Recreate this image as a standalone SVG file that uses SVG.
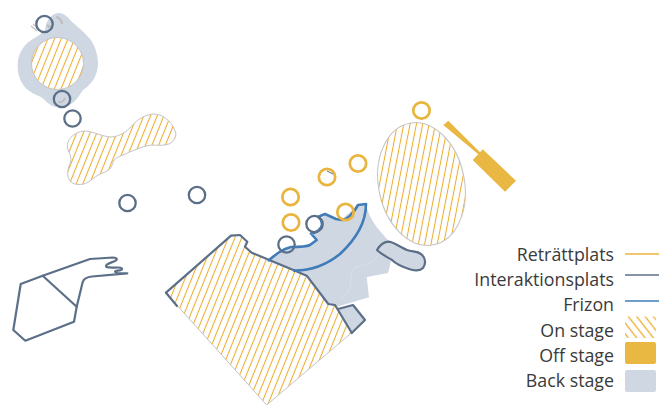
<svg xmlns="http://www.w3.org/2000/svg" width="659" height="405" viewBox="0 0 659 405">
<style>
.on{fill:url(#hatch);stroke:#c4c4c4;stroke-width:1}
.back{fill:#cfd7e3;stroke:none}
.off{fill:#e9b843;stroke:none}
.ring-y{fill:none;stroke:#e9b53f;stroke-width:2.7}
.ring-g{fill:none;stroke:#5c6f88;stroke-width:2.3}
.int{fill:none;stroke:#5c6f88;stroke-width:2.2;stroke-linejoin:round;stroke-linecap:round}
.fri{fill:none;stroke:#3f7cb8;stroke-width:2.6;stroke-linejoin:round}
.lbl{font-family:"Open Sans","Noto Sans",sans-serif;font-size:17.8px;fill:#3a3a3a;text-anchor:end}
</style>
<defs>
<pattern id="hatch" patternUnits="userSpaceOnUse" width="6.2" height="16" patternTransform="rotate(22)">
<rect width="6.2" height="16" fill="#fff"/><line x1="3.1" y1="0" x2="3.1" y2="16" stroke="#eaad2c" stroke-width="1.050"/>
</pattern>
<pattern id="hatchL" patternUnits="userSpaceOnUse" width="6.600" height="16" patternTransform="rotate(-38)">
<line x1="3.3" y1="0" x2="3.3" y2="16" stroke="#eaad2c" stroke-width="1.300"/>
</pattern>
</defs>
<g id="island-north">
<path class="back" d="M45 30C46 20 52 13 59 13C64 13 68 17 72 22C78 27 84 32 90 39C96 47 98 56 98 65C97 76 92 84 83 90C79 96 76 101 71 104C65 108 58 108 52 106C47 103 44 99 41 97C33 94 26 90 22 83C18 76 17 68 18 60C20 50 26 43 33 39C37 36 42 34 45 30Z"/>
<circle class="on" cx="57.500" cy="63.500" r="26"/>
<path d="M31 26L37 31M33 24L39 29" stroke="#c8c8c8" stroke-width="1.500" fill="none"/>
<path d="M47 25A6 6 0 0 0 53 27M56 17A8 8 0 0 1 62 24" stroke="#bdbdbd" stroke-width="2.200" fill="none"/>
<path d="M58 102A6 6 0 0 0 65 98" stroke="#bdbdbd" stroke-width="2" fill="none"/>
</g>
<g id="on-stage-blob">
<path class="on" d="M68 142C71 135 78 131 86 131C95 132 103 137 112 137C120 136 126 132 131 127C137 119 146 114 155 114C165 115 174 124 176 134C175 141 171 144 165 145C158 146 152 144 146 146C138 148 130 152 123 155C118 157 114 159 113 162C112 167 110 170 105 172C99 174 95 177 90 181C85 185 76 186 71 182C67 178 67 172 69 166C72 160 71 157 69 152C67 149 67 145 68 142Z"/>
</g>
<g id="on-stage-main">
<path class="on" d="M165.700 292.700L231 235.700L240 235L247.300 241.700L245 246.700L251.700 252.700L293.300 270L306.700 275.700L328.300 304L335 305L351.700 332.700L266.700 405Z"/>
</g>
<g id="back-stage-main">
<path class="back" d="M268 261C276 254 282 248 291 247C300 247 308 247 316 240L312 233L323 217L326 214L341 220L358 205L366 204C368 217 378 230 390 242L377 250L391 261L388 273L366.700 277L369 297.300L337 306.700L328.300 304L306.700 275.700L293.300 270Z"/>
<path d="M377 256C374 263 364 265 355 267C351 271 351 280 350 288C348 293 344 296 340 300" fill="none" stroke="#dbe1ea" stroke-width="0.800"/>
<path class="back" d="M338 309L353 305L365 320L351.700 333Z"/>
<path class="back" d="M377 250C380 245 384 242 388 241.700C394 241.700 401 248 407 250C412 252 417 251 421 254C426 258 426 264 423 268C420 271 414 271 409 269C403 267 396 264 392 260C387 257 381 254 377 250Z"/>
</g>
<g id="off-stage">
<ellipse class="on" cx="421.500" cy="184" rx="43" ry="62" transform="rotate(-11 421.500 184)"/>
<path class="off" d="M448.300 120.700L480 152.300L482.700 149.300L516 180.700L505 191.700L472.700 160L478.300 154.300L443.300 125Z"/>
</g>
<g id="path-lower-left">
<path class="int" d="M42.700 275.700L90 259L113 257.500C117 257.500 118 259 115 261C110 263 106 264 106 266C106 268 112 267.500 118 267.500C122 267.500 123 269 121 270C118 271 115 270.500 115 272C115 273 120 273.300 127.300 273.300L92 276.500C87 277 84 278 82.700 282L76.700 306.700L74 321.700L25.300 340.700L13.300 330L20.700 284Z"/>
<path class="int" d="M42.700 275.700L76.700 306.700"/>
</g>
<g id="interaction-borders">
<path class="int" d="M166 292.700L231 235.700L240 235L247.300 241.700L245 246.700L251.700 252.700L293.300 270L306.700 275.700L328.300 304L335 305L351.700 332.700"/>
<path class="int" d="M166 292.700L177 306"/>
<path class="int" d="M338 309L353 305L365 320L351.700 333"/>
<path class="int" d="M377 250C380 245 384 242 388 241.700C394 241.700 401 248 407 250C412 252 417 251 421 254C426 258 426 264 423 268C420 271 414 271 409 269C403 267 396 264 392 260C387 257 381 254 377 250Z"/>
</g>
<g id="frizon">
<circle cx="314.500" cy="224" r="8" fill="#fff"/>
<path class="fri" d="M268 261C275 255 282 249 291 247C298 247 306 247 310 245L316.700 240L311 233.500C317 233 321 229 322 225C322 221 321 219 318 217L325 214L336 219L341.700 220C349 220 354 212 358 205L366 204C366 225 354 241 340 254C325 266 308 271 293 270.500"/>
</g>
<g id="rings">
<circle class="ring-g" cx="44.500" cy="24" r="8.200"/>
<circle class="ring-g" cx="62" cy="99" r="8.200"/>
<circle class="ring-g" cx="72.500" cy="118.500" r="8.200"/>
<circle class="ring-g" cx="127.500" cy="203" r="8.200"/>
<circle class="ring-g" cx="197" cy="195" r="8.200"/>
<circle class="ring-g" cx="286.500" cy="244.500" r="8.200"/>
<circle class="ring-g" cx="314.500" cy="224" r="8.200"/>
<circle class="ring-y" cx="421.500" cy="110.500" r="8.200"/>
<circle class="ring-y" cx="358" cy="163.500" r="8.200"/>
<circle class="ring-y" cx="327" cy="177" r="8.200"/>
<circle class="ring-y" cx="290.500" cy="197" r="8.200"/>
<circle class="ring-y" cx="291" cy="222.500" r="8.200"/>
<circle class="ring-y" cx="345.500" cy="212" r="8.200"/>
<path d="M327 171L333 174" stroke="#5c6f88" stroke-width="1" fill="none"/>
</g>
<g id="legend">
<text class="lbl" x="614" y="261">Reträttplats</text>
<text class="lbl" x="614" y="286">Interaktionsplats</text>
<text class="lbl" x="614" y="311">Frizon</text>
<text class="lbl" x="614" y="336.500">On stage</text>
<text class="lbl" x="614" y="361.500">Off stage</text>
<text class="lbl" x="614" y="386.500">Back stage</text>
<line x1="625" y1="254" x2="659" y2="254" stroke="#e9b53f" stroke-width="1.600"/>
<line x1="625" y1="275" x2="659" y2="275" stroke="#5c6f88" stroke-width="1.600"/>
<line x1="625" y1="301" x2="659" y2="301" stroke="#3f7cb8" stroke-width="1.600"/>
<rect x="625" y="316.500" width="31" height="21.500" fill="url(#hatchL)"/>
<rect x="625" y="342" width="31" height="22" rx="2" class="off"/>
<rect x="625" y="370" width="31" height="22" rx="2" class="back"/>
</g>
</svg>
